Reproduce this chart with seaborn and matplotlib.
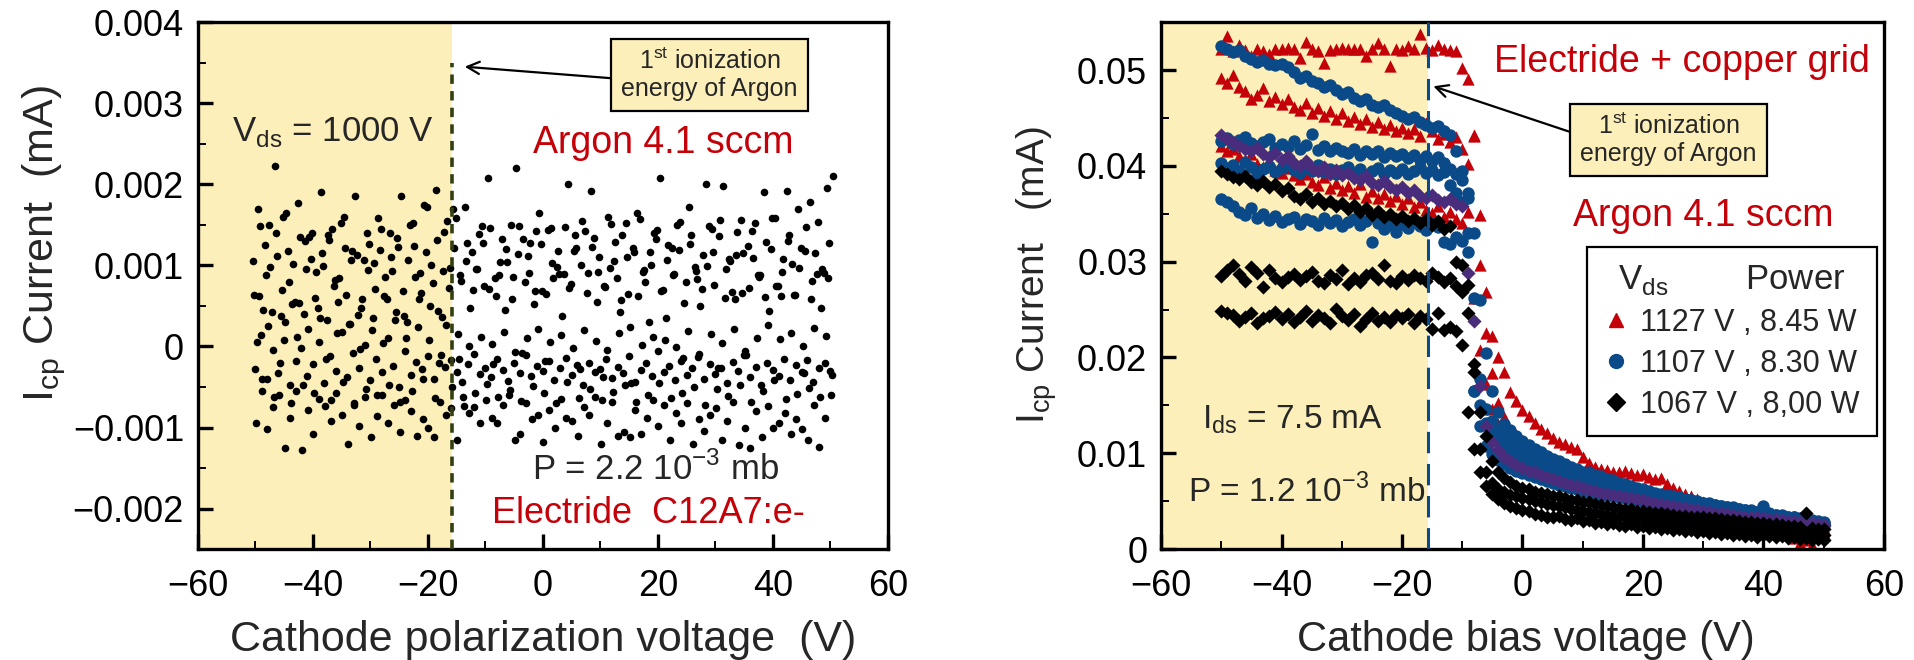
import matplotlib.pyplot as plt
from matplotlib.lines import Line2D
from matplotlib.ticker import MultipleLocator, FuncFormatter
import numpy as np
import pandas as pd
import seaborn as sns

# ---------------- data ----------------
# first ionization energy of argon (shown as -15.76 V on the bias axis)
ionization_v = -15.76

# left panel : electride alone, Icp in units of 1e-5 mA, one value per volt
left_starts = [-50.4, -50.2, -50.0, -49.8, -49.6, -49.9]   # start voltage of each sweep

left_u1 = [105, 62, 125, 98, 140, 70, 118, 102, 54, 130,
           108, 92, 115, 137, 75, 84, 121, 106, 113, 58,
           94, 103, 119, 86, 110, 134, 68, 107, 124, 90,
           116, 101, 131, 93, 72, 122, 88, 105, 117, 96,
           127, 71, 85, 104, 120, 59, 114, 132, 91, 68,
           126, 65, 103, 118, 89, 72, 138, 100, 66, 123,
           92, 75, 97, 129, 57, 110, 121, 62, 94, 116,
           133, 68, 107, 88, 119, 54, 126, 93, 71, 99,
           117, 136, 60, 105, 113, 66, 124, 109, 86, 61,
           120, 74, 92, 130, 63, 97, 118, 58, 89, 95,
           84]
left_u2 = [63, 148, 88, 42, 112, 160, 79, 55, 135, 96,
           140, 47, 99, 131, 82, 152, 64, 118, 39, 107,
           126, 71, 145, 58, 93, 123, 37, 150, 86, 66,
           172, 78, 44, 141, 97, 158, 81, 128, 69, 139,
           75, 146, 62, 133, 104, 86, 149, 80, 127, 142,
           68, 144, 85, 89, 147, 77, 121, 155, 91, 134,
           110, 73, 151, 84, 138, 65, 117, 157, 79, 100,
           143, 70, 125, 89, 154, 80, 137, 83, 113, 148,
           76, 156, 95, 67, 141, 115, 72, 152, 88, 129,
           159, 74, 108, 137, 63, 122, 147, 81, 153, 91,
           128]
left_l1 = [-28, 14, -40, -5, -33, 8, -48, -18, -2, -36,
           -22, 5, -45, -12, -30, 18, -38, -8, -26, 2,
           -42, -15, -32, 10, -24, -50, -6, -35, -19, -28,
           -12, -40, -20, -25, -17, -31, -44, -22, -9, -34,
           -27, -38, -15, -29, -43, -21, -33, -11, -36, -24,
           -30, -18, -41, -26, -14, -35, -23, -47, -20, -32,
           -28, -16, -39, -25, -33, -12, -44, -29, -21, -37,
           -6, -31, -24, -42, -18, -35, -27, -13, -40, -22,
           -34, -26, -45, -19, -30, -11, -38, -25, -48, -20,
           -29, -36, -15, -41, -23, -32, -17, -44, -27, -21,
           -30]
left_l2 = [6, -55, 25, -62, -20, 30, -70, 12, -48, 22,
           -58, 35, -15, -66, 16, -44, 28, -72, -3, -52,
           20, -60, 4, -47, 32, -68, 11, -55, 24, -40,
           8, -64, -10, 26, -50, 15, -73, 0, -58, 12,
           -46, 3, -62, 18, -54, -7, -67, 10, -49, 22,
           -58, 5, -70, 14, -44, -2, -63, 20, -52, 7,
           -66, -4, -56, 16, -48, 24, -69, 2, -60, 12,
           -45, 8, -64, -1, -57, 19, -50, -9, -72, 15,
           -53, 4, -61, 21, -47, -6, -68, 11, -55, 26,
           -42, 9, -65, 17, -59, 1, -51, 23, -62, 13,
           -35]
left_o1 = [170, 45, 150, 222, 38, 165, 52, 177, 40, 135,
           60, 190, 33, 145, 55, 160, 28, 186, 48, 140,
           35, 158, 62, 140, 42, 185, 30, 152, 58, 175,
           50, 193, 36, 155, 170, -15, 172, 48, 95, 148,
           208, -22, 88, 45, 150, 220, -8, 112, 52, 165,
           -18, 146, 98, 38, 200, 118, -28, 142, 192, 55,
           -38, 160, 105, 42, 152, -45, 165, 92, 30, 140,
           208, 35, 122, 150, -14, 172, 98, 50, 200, 145,
           -26, 198, 108, 58, 156, -10, 142, 88, 190, 44,
           158, 62, 192, 102, 170, -33, 178, 115, 48, 196,
           210]
left_o2 = [-95, -40, -102, -75, -60, -125, -88, -55, -128, -78,
           -108, -65, -74, -92, -58, -84, -120, -70, -98, -62,
           -112, -86, -60, -94, -72, -105, -66, -80, -110, -90,
           -100, -112, -68, -85, -76, -115, -62, -82, -75, -94,
           -66, -88, -95, -72, -60, -116, -108, -70, -90, -84,
           -118, -78, -100, -65, -88, -92, -110, -75, -85, -62,
           -120, -95, -68, -110, -105, -112, -78, -108, -88, -66,
           -98, -72, -116, -82, -95, -70, -120, -90, -104, -85,
           -76, -115, -92, -68, -122, -100, -125, -80, -112, -74,
           -100, -95, -82, -108, -90, -102, -115, -72, -124, -88,
           -60]
left_rows = [left_u1, left_u2, left_l1, left_l2, left_o1, left_o2]

# right panel : electride + copper grid, Icp in units of 1e-4 mA, sweeps from -50 V, 1 V step
bias_start = -50

red_a = [522, 535, 520, 526, 521, 515, 522, 520, 517, 522,
         522, 523, 522, 513, 529, 522, 520, 507, 521, 522,
         523, 522, 522, 522, 515, 522, 528, 522, 504, 522,
         521, 525, 522, 538, 523, 521, 526, 522, 521, 520,
         502, 491, 431, 349, 268, 222, 201, 185, 164, 155,
         145, 139, 132, 125, 121, 116, 112, 110, 107, 104,
         96, 90, 86, 84, 83, 81, 80, 82, 79, 77,
         78, 75, 73, 74, 68, 64, 61, 58, 55, 52,
         49, 47, 45, 44, 41, 40, 38, 36, 35, 33,
         32, 31, 29, 28, 21, 12, 6, 9, 4, 15,
         17]
red_b = [492, 486, 495, 482, 478, 470, 474, 481, 468, 472,
         465, 470, 461, 458, 466, 455, 460, 452, 457, 449,
         455, 447, 451, 444, 449, 441, 446, 438, 443, 436,
         440, 434, 438, 431, 445, 436, 428, 433, 425, 430,
         418, 402, 432, 296, 226, 184, 152, 138, 124, 119,
         113, 105, 102, 96, 95, 88, 87, 84, 79, 78,
         76, 72, 71, 67, 67, 63, 63, 59, 58, 57,
         54, 53, 52, 49, 49, 46, 46, 43, 43, 40,
         41, 38, 38, 35, 36, 33, 34, 31, 32, 29,
         30, 27, 28, 25, 27, 23, 25, 21, 24, 19,
         21]
red_c = [421, 415, 418, 410, 406, 412, 402, 399, 405, 396,
         393, 398, 390, 386, 392, 383, 380, 388, 377, 382,
         375, 379, 372, 381, 368, 374, 366, 371, 363, 369,
         360, 366, 357, 362, 354, 351, 358, 347, 352, 344,
         340, 352, 262, 208, 172, 146, 131, 118, 111, 103,
         100, 94, 92, 87, 86, 81, 81, 76, 76, 72,
         72, 68, 68, 64, 64, 61, 61, 57, 58, 54,
         55, 51, 52, 48, 50, 46, 47, 43, 45, 41,
         42, 39, 40, 36, 38, 34, 35, 32, 33, 30,
         31, 28, 29, 26, 27, 24, 25, 22, 23, 21,
         22]
blue_a = [525, 522, 519, 521, 515, 512, 508, 510, 506, 505,
          506, 503, 498, 492, 494, 489, 486, 482, 484, 479,
          475, 477, 471, 468, 470, 464, 461, 463, 458, 455,
          452, 449, 451, 446, 443, 440, 442, 436, 432, 415,
          395, 372, 330, 260, 205, 165, 143, 131, 124, 118,
          113, 109, 104, 101, 97, 94, 92, 89, 86, 84,
          81, 80, 77, 76, 73, 72, 69, 68, 66, 64,
          63, 61, 59, 58, 57, 55, 54, 52, 51, 50,
          48, 48, 46, 45, 44, 44, 42, 41, 41, 39,
          45, 38, 36, 36, 34, 33, 31, 31, 29, 28,
          26]
blue_b = [426, 429, 423, 427, 430, 424, 421, 425, 428, 419,
          423, 420, 426, 418, 422, 433, 417, 421, 415, 419,
          416, 413, 418, 411, 415, 412, 416, 409, 413, 410,
          412, 408, 411, 406, 410, 405, 409, 403, 397, 392,
          385, 366, 262, 178, 146, 134, 124, 118, 112, 108,
          104, 100, 98, 94, 92, 89, 87, 84, 82, 80,
          78, 76, 74, 72, 71, 69, 67, 66, 64, 62,
          61, 60, 58, 57, 56, 54, 53, 52, 51, 49,
          48, 47, 46, 45, 44, 43, 42, 41, 40, 39,
          38, 37, 36, 35, 34, 33, 32, 31, 30, 29,
          28]
blue_c = [403, 398, 401, 395, 404, 399, 392, 397, 400, 394,
          398, 402, 396, 393, 399, 395, 401, 394, 397, 392,
          396, 399, 393, 397, 390, 395, 398, 392, 396, 393,
          397, 391, 395, 399, 393, 396, 390, 394, 380, 372,
          362, 330, 165, 150, 132, 121, 113, 107, 102, 98,
          95, 91, 88, 86, 83, 81, 78, 76, 74, 72,
          70, 69, 67, 65, 64, 62, 61, 59, 58, 56,
          55, 54, 53, 52, 50, 49, 48, 47, 46, 45,
          44, 43, 42, 41, 40, 40, 39, 38, 37, 36,
          35, 35, 34, 33, 32, 31, 31, 30, 29, 28,
          27]
blue_d = [365, 362, 358, 352, 349, 356, 346, 350, 343, 348,
          341, 344, 347, 339, 345, 342, 338, 346, 340, 343,
          337, 341, 345, 338, 342, 320, 340, 334, 338, 331,
          339, 335, 341, 337, 333, 340, 336, 320, 318, 326,
          322, 310, 165, 128, 108, 99, 93, 89, 85, 82,
          79, 77, 75, 73, 71, 69, 67, 66, 64, 63,
          61, 60, 59, 57, 56, 55, 54, 53, 52, 51,
          50, 49, 48, 47, 46, 45, 44, 43, 42, 41,
          40, 39, 38, 38, 37, 36, 35, 34, 34, 33,
          32, 31, 31, 30, 29, 28, 28, 27, 26, 25,
          24]
purple_a = [432, 428, 425, 421, 418, 415, 419, 412, 409, 413,
            406, 410, 403, 400, 405, 398, 395, 399, 392, 396,
            390, 393, 387, 385, 389, 382, 380, 384, 378, 375,
            378, 372, 375, 369, 366, 370, 364, 362, 365, 360,
            358, 288, 238, 170, 128, 112, 103, 96, 92, 88,
            85, 82, 80, 77, 75, 73, 71, 69, 67, 66,
            64, 62, 61, 59, 58, 57, 55, 54, 53, 52,
            51, 49, 48, 47, 46, 45, 44, 43, 42, 41,
            40, 39, 38, 38, 37, 36, 35, 34, 34, 33,
            32, 31, 31, 30, 29, 29, 28, 27, 27, 26,
            25]
black_a = [395, 392, 388, 386, 389, 383, 380, 384, 378, 381,
           374, 377, 369, 365, 371, 362, 366, 360, 363, 358,
           361, 355, 359, 352, 356, 349, 353, 347, 350, 345,
           348, 342, 346, 340, 344, 338, 342, 334, 337, 300,
           296, 276, 193, 143, 118, 92, 80, 74, 70, 66,
           64, 63, 60, 59, 58, 55, 55, 53, 51, 51,
           49, 49, 47, 46, 45, 44, 43, 42, 42, 40,
           40, 39, 38, 38, 37, 36, 35, 35, 34, 33,
           33, 32, 32, 31, 30, 30, 29, 28, 28, 27,
           27, 26, 26, 25, 24, 24, 23, 38, 22, 21,
           21]
black_b = [285, 291, 296, 287, 280, 294, 288, 274, 291, 283,
           279, 284, 287, 281, 285, 289, 280, 278, 286, 282,
           291, 277, 283, 279, 286, 288, 282, 297, 280, 278,
           285, 281, 286, 283, 280, 288, 284, 279, 283, 275,
           268, 246, 185, 104, 80, 69, 63, 60, 57, 55,
           53, 52, 50, 49, 47, 46, 45, 44, 42, 41,
           40, 39, 38, 37, 36, 35, 35, 34, 33, 32,
           32, 31, 30, 30, 29, 28, 28, 27, 27, 26,
           25, 25, 24, 24, 23, 23, 22, 22, 21, 21,
           20, 20, 19, 19, 18, 18, 17, 17, 16, 16,
           15]
black_c = [248, 246, 244, 238, 242, 246, 236, 241, 243, 247,
           240, 245, 237, 242, 249, 238, 244, 241, 236, 251,
           243, 239, 245, 233, 240, 246, 238, 242, 237, 244,
           241, 245, 236, 243, 240, 230, 246, 229, 232, 228,
           213, 143, 104, 80, 66, 58, 52, 48, 45, 43,
           41, 40, 37, 36, 34, 33, 35, 31, 30, 32,
           29, 30, 27, 28, 26, 27, 25, 24, 26, 23,
           24, 22, 23, 21, 22, 20, 21, 19, 20, 18,
           19, 17, 18, 16, 17, 15, 16, 14, 15, 13,
           15, 14, 13, 14, 12, 13, 11, 12, 10, 11,
           10]

series_sweeps = {'red': [red_a, red_b, red_c],
                 'blue': [blue_a, blue_b, blue_c, blue_d],
                 'purple': [purple_a],
                 'black': [black_a, black_b, black_c]}
legend_labels = {'red': '1127 V , 8.45 W',
                 'blue': '1107 V , 8.30 W',
                 'black': '1067 V , 8,00 W'}

# ---------------- tables ----------------
parts = []
for start, row in zip(left_starts, left_rows):
    parts.append(pd.DataFrame({'volt': start + np.arange(len(row)),
                               'current': np.array(row) * 1e-5}))
left_df = pd.concat(parts, ignore_index=True)

parts = []
for name, sweeps in series_sweeps.items():
    for vals in sweeps:
        parts.append(pd.DataFrame({'volt': bias_start + np.arange(len(vals)),
                                   'current': np.array(vals) * 1e-4,
                                   'series': name}))
right_df = pd.concat(parts, ignore_index=True)

# ---------------- style ----------------
sns.set_style("ticks")
plt.rcParams['font.family'] = ['Liberation Sans', 'DejaVu Sans']
plt.rcParams['axes.unicode_minus'] = True

shade = '#FCEFBA'
red = '#C40008'
blue = '#0B4A88'
purple = '#4A2C7C'
colors = {'red': red, 'blue': blue, 'purple': purple, 'black': 'black'}
markers = {'red': '^', 'blue': 'o', 'purple': 'D', 'black': 'D'}
sizes = {'red': 78, 'blue': 80, 'purple': 52, 'black': 52}


def tick_fmt(v, pos):
    if abs(v) < 1e-12:
        return '0'
    return f'{v:g}'.replace('-', '\u2212')


def style_axis(ax):
    for side in ax.spines.values():
        side.set_linewidth(2.4)
        side.set_color('black')
    ax.tick_params(which='both', direction='in', top=False, right=False,
                   labelsize=26, colors='black')
    ax.tick_params(axis='x', pad=14)
    ax.tick_params(axis='y', pad=10)
    ax.tick_params(which='major', length=11, width=2.4)
    ax.tick_params(which='minor', length=6, width=1.4)
    ax.xaxis.set_major_locator(MultipleLocator(20))
    ax.xaxis.set_minor_locator(MultipleLocator(10))
    ax.yaxis.set_major_formatter(FuncFormatter(tick_fmt))
    ax.set_xlim(-60, 60)


fig = plt.figure(figsize=(19.14, 6.6), dpi=100)
ax1 = fig.add_axes([0.1034, 0.168, 0.3605, 0.7985])
ax2 = fig.add_axes([0.6066, 0.168, 0.3777, 0.7985])

# ---------------- left panel ----------------
ax1.axvspan(-60, ionization_v, color=shade, lw=0, zorder=0)
sns.scatterplot(data=left_df, x='volt', y='current', color='black', s=30,
                linewidth=0, ax=ax1, zorder=2)
ax1.plot([ionization_v, ionization_v], [-0.0025, 0.0035], color='#333F12',
         lw=2.6, ls=(0, (2.6, 2.0)), zorder=3)
style_axis(ax1)
ax1.set_ylim(-0.0025, 0.004)
ax1.yaxis.set_major_locator(MultipleLocator(0.001))
ax1.yaxis.set_minor_locator(MultipleLocator(0.0005))
ax1.set_xlabel('Cathode polarization voltage  (V)', fontsize=31)
ax1.set_ylabel(r'I$_{\mathregular{cp}}$ Current  (mA)', fontsize=31)
ax1.xaxis.set_label_coords(0.5, -0.135)
ax1.yaxis.set_label_coords(-0.188, 0.58)

ax1.text(-54, 0.00253, r'V$_{\mathregular{ds}}$ = 1000 V', fontsize=25, ha='left')
ax1.text(20.9, 0.00238, 'Argon 4.1 sccm', fontsize=27, color=red, ha='center')
ax1.text(19.5, -0.00165, r'P = 2.2 10$^{\mathregular{-3}}$ mb', fontsize=25, ha='center')
ax1.text(18.4, -0.00218, 'Electride  C12A7:e-', fontsize=26, color=red, ha='center')
ax1.annotate('1$^{\\mathregular{st}}$ ionization\nenergy of Argon',
             xy=(-13.6, 0.00345), xytext=(29.0, 0.00335), fontsize=18,
             ha='center', va='center', linespacing=1.15, zorder=5,
             bbox=dict(boxstyle='square,pad=0.4', fc=shade, ec='black', lw=1.6),
             arrowprops=dict(arrowstyle='->', color='black', lw=1.6,
                             mutation_scale=22, relpos=(0, 0.42), shrinkA=0, shrinkB=0))

# ---------------- right panel ----------------
ax2.axvspan(-60, ionization_v, color=shade, lw=0, zorder=0)
for name in ['red', 'blue', 'purple', 'black']:
    sns.scatterplot(data=right_df[right_df['series'] == name], x='volt', y='current',
                    color=colors[name], marker=markers[name], s=sizes[name],
                    linewidth=0, ax=ax2, zorder=2, legend=False)
ax2.plot([ionization_v, ionization_v], [0, 0.055], color=blue, lw=2.2,
         ls=(0, (7, 3.5)), zorder=3)
style_axis(ax2)
ax2.set_ylim(0, 0.055)
ax2.yaxis.set_major_locator(MultipleLocator(0.01))
ax2.yaxis.set_minor_locator(MultipleLocator(0.005))
ax2.set_xlabel('Cathode bias voltage (V)', fontsize=30)
ax2.set_ylabel(r'I$_{\mathregular{cp}}$ Current   (mA)', fontsize=28)
ax2.xaxis.set_label_coords(0.504, -0.135)
ax2.yaxis.set_label_coords(-0.141, 0.52)

ax2.text(26.4, 0.0498, 'Electride + copper grid', fontsize=27, color=red, ha='center')
ax2.text(30.0, 0.0337, 'Argon 4.1 sccm', fontsize=27, color=red, ha='center')
ax2.text(-53.2, 0.01266, r'I$_{\mathregular{ds}}$ = 7.5 mA', fontsize=24, ha='left')
ax2.text(-55.6, 0.0049, r'P = 1.2 10$^{\mathregular{-3}}$ mb', fontsize=24, ha='left')
ax2.annotate('1$^{\\mathregular{st}}$ ionization\nenergy of Argon',
             xy=(-14.8, 0.0483), xytext=(24.2, 0.0427), fontsize=18,
             ha='center', va='center', linespacing=1.15, zorder=5,
             bbox=dict(boxstyle='square,pad=0.4', fc=shade, ec='black', lw=1.6),
             arrowprops=dict(arrowstyle='->', color='black', lw=1.6,
                             mutation_scale=22, relpos=(0, 0.59), shrinkA=0, shrinkB=0))

handles = [Line2D([], [], ls='none', marker=markers[k], color=colors[k],
                  markersize=10 if k != 'black' else 9, label=legend_labels[k])
           for k in ['red', 'blue', 'black']]
leg = ax2.legend(handles=handles, loc='upper right', bbox_to_anchor=(0.99, 0.574),
                 borderaxespad=0,
                 title='V$_{\\mathregular{ds}}$        Power', title_fontsize=25,
                 fontsize=22, frameon=True, fancybox=False, framealpha=1,
                 edgecolor='black', handlelength=0.8, handletextpad=0.4,
                 labelspacing=0.35, borderpad=0.55)
leg.get_frame().set_linewidth(1.6)

fig.savefig('out.png', dpi=100)
